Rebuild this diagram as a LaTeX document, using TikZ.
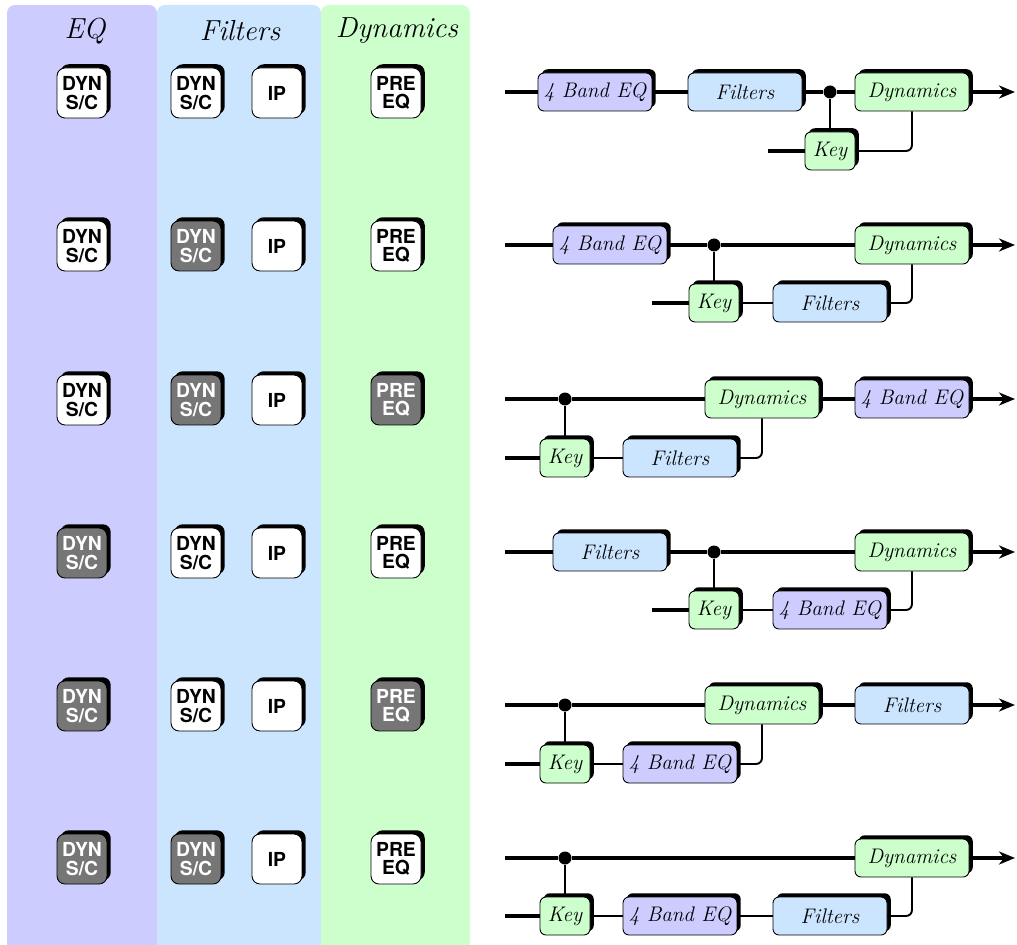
\documentclass[tikz,border=0pt]{standalone}
\usepackage{fontspec}
\setsansfont{TeX Gyre Heros}
\usetikzlibrary{shadows,arrows.meta}

\definecolor{eqcol}{RGB}{204,204,255}
\definecolor{filtcol}{RGB}{204,229,255}
\definecolor{dyncol}{RGB}{204,255,204}
\definecolor{litcol}{RGB}{118,118,118}

\tikzset{
  blackshadow/.style={drop shadow={shadow xshift=0.075cm,shadow yshift=0.075cm,fill=black,opacity=1}},
  blockbox/.style={draw=black,line width=0.5pt,rounded corners=0.12cm,minimum width=2.28cm,minimum height=0.76cm,inner sep=0pt,font=\fontsize{12}{14}\selectfont\itshape,blackshadow},
  eqbox/.style={blockbox,fill=eqcol},
  filtbox/.style={blockbox,fill=filtcol},
  dynbox/.style={blockbox,fill=dyncol},
  keybox/.style={blockbox,fill=dyncol,minimum width=1cm},
  btn/.style={draw=black,line width=0.5pt,fill=white,rounded corners=0.16cm,minimum size=1cm,inner sep=0pt,align=center,font=\fontsize{11}{10.5}\selectfont\sffamily\bfseries,blackshadow},
  btnlit/.style={btn,fill=litcol,text=white},
  sig/.style={line width=2.4pt},
  side/.style={line width=1.1pt},
  sigend/.style={sig,-{Stealth[length=0.32cm,width=0.26cm,inset=0.1cm]}},
  dot/.style={circle,fill=black,inner sep=0pt,minimum size=0.26cm},
  paneltitle/.style={font=\fontsize{16.5}{19}\selectfont\itshape},
}

\begin{document}
\begin{tikzpicture}[x=0.02cm,y=-0.02cm]
\useasboundingbox (0,0) rectangle (1017,945);

%panels
\fill [eqcol,rounded corners=0.16cm] (7,960) -- (7,5) -- (157,5) -- (157,960) -- cycle ;
\fill [filtcol,rounded corners=0.16cm] (157,960) -- (157,5) -- (321,5) -- (321,960) -- cycle ;
\fill [dyncol,rounded corners=0.16cm] (321,960) -- (321,5) -- (470,5) -- (470,960) -- cycle ;

%panel titles
\node [paneltitle] (teq) at (85,31) {EQ} ;
\node [paneltitle] (tfilt) at (240,31) {Filters} ;
\node [paneltitle] (tdyn) at (397,31) {Dynamics} ;

%buttons
\node [btn] (b1a) at (82,93) {DYN\\S/C} ;
\node [btn] (b1b) at (196,93) {DYN\\S/C} ;
\node [btn] (b1c) at (277,93) {IP} ;
\node [btn] (b1d) at (396,93) {PRE\\EQ} ;

\node [btn] (b2a) at (82,246) {DYN\\S/C} ;
\node [btnlit] (b2b) at (196,246) {DYN\\S/C} ;
\node [btn] (b2c) at (277,246) {IP} ;
\node [btn] (b2d) at (396,246) {PRE\\EQ} ;

\node [btn] (b3a) at (82,400) {DYN\\S/C} ;
\node [btnlit] (b3b) at (196,400) {DYN\\S/C} ;
\node [btn] (b3c) at (277,400) {IP} ;
\node [btnlit] (b3d) at (396,400) {PRE\\EQ} ;

\node [btnlit] (b4a) at (82,553) {DYN\\S/C} ;
\node [btn] (b4b) at (196,553) {DYN\\S/C} ;
\node [btn] (b4c) at (277,553) {IP} ;
\node [btn] (b4d) at (396,553) {PRE\\EQ} ;

\node [btnlit] (b5a) at (82,706) {DYN\\S/C} ;
\node [btn] (b5b) at (196,706) {DYN\\S/C} ;
\node [btn] (b5c) at (277,706) {IP} ;
\node [btnlit] (b5d) at (396,706) {PRE\\EQ} ;

\node [btnlit] (b6a) at (82,859) {DYN\\S/C} ;
\node [btnlit] (b6b) at (196,859) {DYN\\S/C} ;
\node [btn] (b6c) at (277,859) {IP} ;
\node [btn] (b6d) at (396,859) {PRE\\EQ} ;

%first chain
\coordinate (in1) at (505,92) ;
\coordinate (kin1) at (768,151) ;
\coordinate (end1) at (1015,92) ;
\node [eqbox] (eq1) at (595,92) {4 Band EQ} ;
\node [filtbox] (fi1) at (745,92) {Filters} ;
\node [dot] (j1) at (830,92) {} ;
\node [dynbox] (dy1) at (912,92) {Dynamics} ;
\node [keybox] (key1) at (830,151) {Key} ;
\draw [sig] (in1) -- (eq1) ;
\draw [sig] (eq1) -- (fi1) ;
\draw [sig] (fi1) -- (j1) -- (dy1) ;
\draw [sigend] (dy1) -- (end1) ;
\draw [sig] (kin1) -- (key1) ;
\draw [side] (j1) -- (key1) ;
\draw [side,rounded corners=0.12cm] (key1) -| (dy1) ;

%second chain
\coordinate (in2) at (505,245) ;
\coordinate (kin2) at (652,303) ;
\coordinate (end2) at (1015,245) ;
\node [eqbox] (eq2) at (610,245) {4 Band EQ} ;
\node [dot] (j2) at (714,245) {} ;
\node [dynbox] (dy2) at (912,245) {Dynamics} ;
\node [keybox] (key2) at (714,303) {Key} ;
\node [filtbox] (fi2) at (830,303) {Filters} ;
\draw [sig] (in2) -- (eq2) ;
\draw [sig] (eq2) -- (j2) -- (dy2) ;
\draw [sigend] (dy2) -- (end2) ;
\draw [sig] (kin2) -- (key2) ;
\draw [side] (j2) -- (key2) ;
\draw [side] (key2) -- (fi2) ;
\draw [side,rounded corners=0.12cm] (fi2) -| (dy2) ;

%third chain
\coordinate (in3) at (505,399) ;
\coordinate (kin3) at (505,458) ;
\coordinate (end3) at (1015,399) ;
\node [dot] (j3) at (565,399) {} ;
\node [dynbox] (dy3) at (762,399) {Dynamics} ;
\node [eqbox] (eq3) at (912,399) {4 Band EQ} ;
\node [keybox] (key3) at (565,458) {Key} ;
\node [filtbox] (fi3) at (680,458) {Filters} ;
\draw [sig] (in3) -- (j3) -- (dy3) ;
\draw [sig] (dy3) -- (eq3) ;
\draw [sigend] (eq3) -- (end3) ;
\draw [sig] (kin3) -- (key3) ;
\draw [side] (j3) -- (key3) ;
\draw [side] (key3) -- (fi3) ;
\draw [side,rounded corners=0.12cm] (fi3) -| (dy3) ;

%fourth chain
\coordinate (in4) at (505,552) ;
\coordinate (kin4) at (652,610) ;
\coordinate (end4) at (1015,552) ;
\node [filtbox] (fi4) at (610,552) {Filters} ;
\node [dot] (j4) at (714,552) {} ;
\node [dynbox] (dy4) at (912,552) {Dynamics} ;
\node [keybox] (key4) at (714,610) {Key} ;
\node [eqbox] (eq4) at (830,610) {4 Band EQ} ;
\draw [sig] (in4) -- (fi4) ;
\draw [sig] (fi4) -- (j4) -- (dy4) ;
\draw [sigend] (dy4) -- (end4) ;
\draw [sig] (kin4) -- (key4) ;
\draw [side] (j4) -- (key4) ;
\draw [side] (key4) -- (eq4) ;
\draw [side,rounded corners=0.12cm] (eq4) -| (dy4) ;

%fifth chain
\coordinate (in5) at (505,705) ;
\coordinate (kin5) at (505,764) ;
\coordinate (end5) at (1015,705) ;
\node [dot] (j5) at (565,705) {} ;
\node [dynbox] (dy5) at (762,705) {Dynamics} ;
\node [filtbox] (fi5) at (912,705) {Filters} ;
\node [keybox] (key5) at (565,764) {Key} ;
\node [eqbox] (eq5) at (680,764) {4 Band EQ} ;
\draw [sig] (in5) -- (j5) -- (dy5) ;
\draw [sig] (dy5) -- (fi5) ;
\draw [sigend] (fi5) -- (end5) ;
\draw [sig] (kin5) -- (key5) ;
\draw [side] (j5) -- (key5) ;
\draw [side] (key5) -- (eq5) ;
\draw [side,rounded corners=0.12cm] (eq5) -| (dy5) ;

%sixth chain
\coordinate (in6) at (505,858) ;
\coordinate (kin6) at (505,916) ;
\coordinate (end6) at (1015,858) ;
\node [dot] (j6) at (565,858) {} ;
\node [dynbox] (dy6) at (912,858) {Dynamics} ;
\node [keybox] (key6) at (565,916) {Key} ;
\node [eqbox] (eq6) at (680,916) {4 Band EQ} ;
\node [filtbox] (fi6) at (830,916) {Filters} ;
\draw [sig] (in6) -- (j6) -- (dy6) ;
\draw [sigend] (dy6) -- (end6) ;
\draw [sig] (kin6) -- (key6) ;
\draw [side] (j6) -- (key6) ;
\draw [side] (key6) -- (eq6) ;
\draw [side] (eq6) -- (fi6) ;
\draw [side,rounded corners=0.12cm] (fi6) -| (dy6) ;

\end{tikzpicture}
\end{document}
